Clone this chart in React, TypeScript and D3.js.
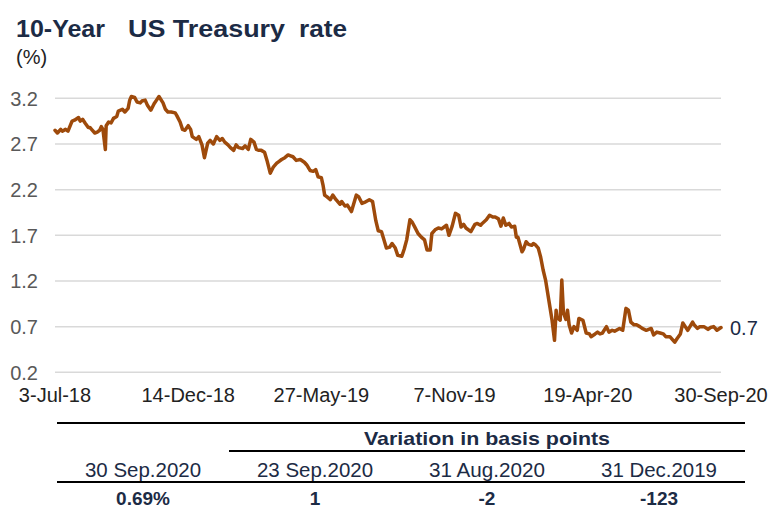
import React from 'react';
import * as d3 from 'd3';

// 10Y US Treasury yield, %
const rateSeries: [string, number][] = [
  ['2018-07-03', 2.85], ['2018-07-06', 2.82], ['2018-07-10', 2.86], ['2018-07-12', 2.84],
  ['2018-07-16', 2.86], ['2018-07-19', 2.84], ['2018-07-24', 2.95], ['2018-07-27', 2.96],
  ['2018-08-01', 2.99], ['2018-08-03', 2.95], ['2018-08-06', 2.97], ['2018-08-09', 2.93],
  ['2018-08-13', 2.88], ['2018-08-15', 2.88], ['2018-08-17', 2.86], ['2018-08-21', 2.82],
  ['2018-08-24', 2.83], ['2018-08-27', 2.85], ['2018-08-29', 2.89], ['2018-08-31', 2.86],
  ['2018-09-03', 2.64], ['2018-09-04', 2.90], ['2018-09-07', 2.94], ['2018-09-10', 2.93],
  ['2018-09-13', 2.98], ['2018-09-17', 3.0], ['2018-09-19', 3.06], ['2018-09-24', 3.08],
  ['2018-09-27', 3.05], ['2018-10-01', 3.09], ['2018-10-03', 3.18], ['2018-10-05', 3.22],
  ['2018-10-09', 3.21], ['2018-10-12', 3.16], ['2018-10-16', 3.15], ['2018-10-18', 3.17],
  ['2018-10-22', 3.18], ['2018-10-25', 3.12], ['2018-10-29', 3.07], ['2018-11-02', 3.14],
  ['2018-11-05', 3.18], ['2018-11-08', 3.22], ['2018-11-13', 3.15], ['2018-11-16', 3.08],
  ['2018-11-19', 3.05], ['2018-11-23', 3.05], ['2018-11-28', 3.04], ['2018-11-30', 3.01],
  ['2018-12-04', 2.94], ['2018-12-07', 2.86], ['2018-12-10', 2.85], ['2018-12-14', 2.9],
  ['2018-12-17', 2.86], ['2018-12-19', 2.78], ['2018-12-24', 2.75], ['2018-12-27', 2.78],
  ['2018-12-31', 2.69], ['2019-01-03', 2.55], ['2019-01-07', 2.71], ['2019-01-10', 2.74],
  ['2019-01-14', 2.7], ['2019-01-18', 2.78], ['2019-01-22', 2.74], ['2019-01-25', 2.76],
  ['2019-01-28', 2.72], ['2019-02-01', 2.69], ['2019-02-04', 2.66], ['2019-02-08', 2.63],
  ['2019-02-11', 2.69], ['2019-02-14', 2.66], ['2019-02-19', 2.65], ['2019-02-22', 2.68],
  ['2019-02-26', 2.64], ['2019-03-01', 2.75], ['2019-03-05', 2.72], ['2019-03-08', 2.64],
  ['2019-03-11', 2.63], ['2019-03-14', 2.63], ['2019-03-18', 2.61], ['2019-03-21', 2.52],
  ['2019-03-25', 2.38], ['2019-03-29', 2.45], ['2019-04-02', 2.49], ['2019-04-05', 2.51],
  ['2019-04-08', 2.53], ['2019-04-12', 2.55], ['2019-04-16', 2.58], ['2019-04-19', 2.57],
  ['2019-04-22', 2.56], ['2019-04-26', 2.52], ['2019-05-01', 2.53], ['2019-05-06', 2.5],
  ['2019-05-09', 2.47], ['2019-05-13', 2.41], ['2019-05-17', 2.4], ['2019-05-20', 2.42],
  ['2019-05-23', 2.34], ['2019-05-27', 2.33], ['2019-05-29', 2.25], ['2019-05-31', 2.14],
  ['2019-06-03', 2.12], ['2019-06-07', 2.09], ['2019-06-10', 2.14], ['2019-06-14', 2.09],
  ['2019-06-19', 2.04], ['2019-06-21', 2.07], ['2019-06-25', 2.02], ['2019-06-28', 2.03],
  ['2019-07-03', 1.96], ['2019-07-09', 2.14], ['2019-07-12', 2.12], ['2019-07-16', 2.05],
  ['2019-07-19', 2.06], ['2019-07-25', 2.09], ['2019-07-29', 2.07], ['2019-08-02', 1.86],
  ['2019-08-05', 1.75], ['2019-08-09', 1.74], ['2019-08-12', 1.65], ['2019-08-15', 1.56],
  ['2019-08-19', 1.57], ['2019-08-22', 1.61], ['2019-08-26', 1.56], ['2019-08-29', 1.48],
  ['2019-09-03', 1.47], ['2019-09-06', 1.55], ['2019-09-09', 1.65], ['2019-09-13', 1.87],
  ['2019-09-16', 1.84], ['2019-09-19', 1.79], ['2019-09-23', 1.72], ['2019-09-27', 1.68],
  ['2019-10-01', 1.65], ['2019-10-04', 1.54], ['2019-10-08', 1.54], ['2019-10-10', 1.72],
  ['2019-10-14', 1.76], ['2019-10-18', 1.78], ['2019-10-22', 1.77], ['2019-10-28', 1.81],
  ['2019-10-31', 1.7], ['2019-11-04', 1.8], ['2019-11-08', 1.94], ['2019-11-12', 1.92],
  ['2019-11-15', 1.79], ['2019-11-18', 1.82], ['2019-11-21', 1.78], ['2019-11-27', 1.74],
  ['2019-12-02', 1.82], ['2019-12-05', 1.83], ['2019-12-09', 1.81], ['2019-12-11', 1.83],
  ['2019-12-16', 1.87], ['2019-12-20', 1.92], ['2019-12-24', 1.9], ['2019-12-27', 1.9],
  ['2019-12-31', 1.88], ['2020-01-03', 1.8], ['2020-01-06', 1.89], ['2020-01-09', 1.81],
  ['2020-01-13', 1.83], ['2020-01-16', 1.79], ['2020-01-20', 1.8], ['2020-01-22', 1.68],
  ['2020-01-24', 1.68], ['2020-01-29', 1.52], ['2020-01-31', 1.55], ['2020-02-03', 1.63],
  ['2020-02-06', 1.6], ['2020-02-10', 1.59], ['2020-02-12', 1.61], ['2020-02-14', 1.6],
  ['2020-02-18', 1.56], ['2020-02-21', 1.46], ['2020-02-24', 1.32], ['2020-02-27', 1.21],
  ['2020-03-02', 0.99], ['2020-03-06', 0.77], ['2020-03-09', 0.55], ['2020-03-11', 0.88],
  ['2020-03-12', 0.8], ['2020-03-16', 0.77], ['2020-03-18', 1.21], ['2020-03-20', 0.85],
  ['2020-03-23', 0.78], ['2020-03-25', 0.88], ['2020-03-27', 0.72], ['2020-03-30', 0.63],
  ['2020-04-02', 0.7], ['2020-04-06', 0.66], ['2020-04-08', 0.79], ['2020-04-13', 0.77],
  ['2020-04-17', 0.63], ['2020-04-21', 0.62], ['2020-04-23', 0.59], ['2020-04-28', 0.62],
  ['2020-05-01', 0.64], ['2020-05-04', 0.62], ['2020-05-07', 0.63], ['2020-05-12', 0.7],
  ['2020-05-15', 0.64], ['2020-05-19', 0.66], ['2020-05-22', 0.65], ['2020-05-28', 0.68],
  ['2020-06-01', 0.66], ['2020-06-05', 0.9], ['2020-06-08', 0.88], ['2020-06-11', 0.75],
  ['2020-06-15', 0.72], ['2020-06-18', 0.72], ['2020-06-22', 0.7], ['2020-06-25', 0.68],
  ['2020-06-30', 0.66], ['2020-07-06', 0.68], ['2020-07-09', 0.61], ['2020-07-13', 0.64],
  ['2020-07-17', 0.63], ['2020-07-21', 0.62], ['2020-07-24', 0.59], ['2020-07-29', 0.59],
  ['2020-08-04', 0.53], ['2020-08-07', 0.57], ['2020-08-11', 0.62], ['2020-08-14', 0.74],
  ['2020-08-17', 0.7], ['2020-08-20', 0.66], ['2020-08-26', 0.75], ['2020-08-28', 0.72],
  ['2020-09-01', 0.68], ['2020-09-04', 0.7], ['2020-09-09', 0.7], ['2020-09-14', 0.67],
  ['2020-09-17', 0.69], ['2020-09-21', 0.7], ['2020-09-25', 0.66], ['2020-09-30', 0.69],
];

const yTicks = [0.2, 0.7, 1.2, 1.7, 2.2, 2.7, 3.2];
const xTickDates = ['2018-07-03', '2018-12-14', '2019-05-27', '2019-11-07', '2020-04-19', '2020-09-30'];
const endLabel = '0.7';

const tableDates = ['30 Sep.2020', '23 Sep.2020', '31 Aug.2020', '31 Dec.2019'];
const tableValues = ['0.69%', '1', '-2', '-123'];
const tableGroupLabel = 'Variation in basis points';

const FONT = '"Liberation Sans", Arial, Helvetica, sans-serif';
const NAVY = '#1c2b45';
const LINE = '#9e4a0b';

export default function App() {
  const parse = d3.timeParse('%Y-%m-%d');
  const fmt = d3.timeFormat('%-d-%b-%y');
  const data = rateSeries.map(([d, v]) => ({ date: parse(d) as Date, value: v }));

  const x = d3
    .scaleTime()
    .domain([parse(xTickDates[0]) as Date, parse(xTickDates[xTickDates.length - 1]) as Date])
    .range([55, 721]);
  const y = d3.scaleLinear().domain([0.2, 3.2]).range([372.3, 98.3]);

  const line = d3
    .line<{ date: Date; value: number }>()
    .x((d) => x(d.date))
    .y((d) => y(d.value));

  const cols = d3.scaleBand<number>().domain(d3.range(tableDates.length)).range([57, 745]);
  const colCenter = (i: number) => (cols(i) as number) + cols.bandwidth() / 2;
  const last = data[data.length - 1];

  // title words are laid out at the widths the original uses
  const titleParts: [string, number, number][] = [
    ['10-Year', 16, 89],
    ['US Treasury', 128, 157],
    ['rate', 299, 48],
  ];

  return (
    <svg
      width={774}
      height={511}
      style={{ position: 'absolute', left: 0, top: 0, background: '#fff' }}
      fontFamily={FONT}
    >
      {titleParts.map(([t, tx, tw]) => (
        <text
          key={t}
          x={tx}
          y={37}
          fontSize={24}
          fontWeight="bold"
          fill={NAVY}
          textLength={tw}
          lengthAdjust="spacingAndGlyphs"
        >
          {t}
        </text>
      ))}
      <text x={16} y={64} fontSize={20} fill="#222">(%)</text>

      {/* gridlines + y labels */}
      {yTicks.map((t) => (
        <g key={t}>
          <line x1={55} x2={721} y1={y(t)} y2={y(t)} stroke="#d9d9d9" strokeWidth={1.5} />
          <text x={38} y={y(t)} dy="0.36em" textAnchor="end" fontSize={20} fill="#595959">
            {d3.format('.1f')(t)}
          </text>
        </g>
      ))}

      {/* x labels */}
      {xTickDates.map((d) => (
        <text key={d} x={x(parse(d) as Date)} y={402} textAnchor="middle" fontSize={20} fill="#222">
          {fmt(parse(d) as Date)}
        </text>
      ))}

      {/* series */}
      <path
        d={line(data) || ''}
        fill="none"
        stroke={LINE}
        strokeWidth={3.5}
        strokeLinejoin="round"
        strokeLinecap="round"
      />
      <text x={x(last.date) + 9} y={y(last.value)} dy="0.36em" fontSize={20} fill={NAVY}>
        {endLabel}
      </text>

      {/* table */}
      <line x1={57} x2={745} y1={423} y2={423} stroke="#000" strokeWidth={2} />
      <text
        x={(colCenter(1) + colCenter(3)) / 2}
        y={445}
        textAnchor="middle"
        fontSize={19}
        fontWeight="bold"
        fill={NAVY}
        textLength={246}
        lengthAdjust="spacingAndGlyphs"
      >
        {tableGroupLabel}
      </text>
      <line x1={cols(1)} x2={745} y1={451} y2={451} stroke="#000" strokeWidth={2} />
      {tableDates.map((d, i) => (
        <text
          key={d}
          x={colCenter(i)}
          y={477}
          textAnchor="middle"
          fontSize={20}
          fill={NAVY}
          textLength={116}
          lengthAdjust="spacingAndGlyphs"
        >
          {d}
        </text>
      ))}
      <line x1={57} x2={745} y1={482} y2={482} stroke="#000" strokeWidth={2} />
      {tableValues.map((v, i) => (
        <text
          key={i}
          x={colCenter(i)}
          y={505}
          textAnchor="middle"
          fontSize={19}
          fontWeight="bold"
          fill={NAVY}
        >
          {v}
        </text>
      ))}
    </svg>
  );
}
